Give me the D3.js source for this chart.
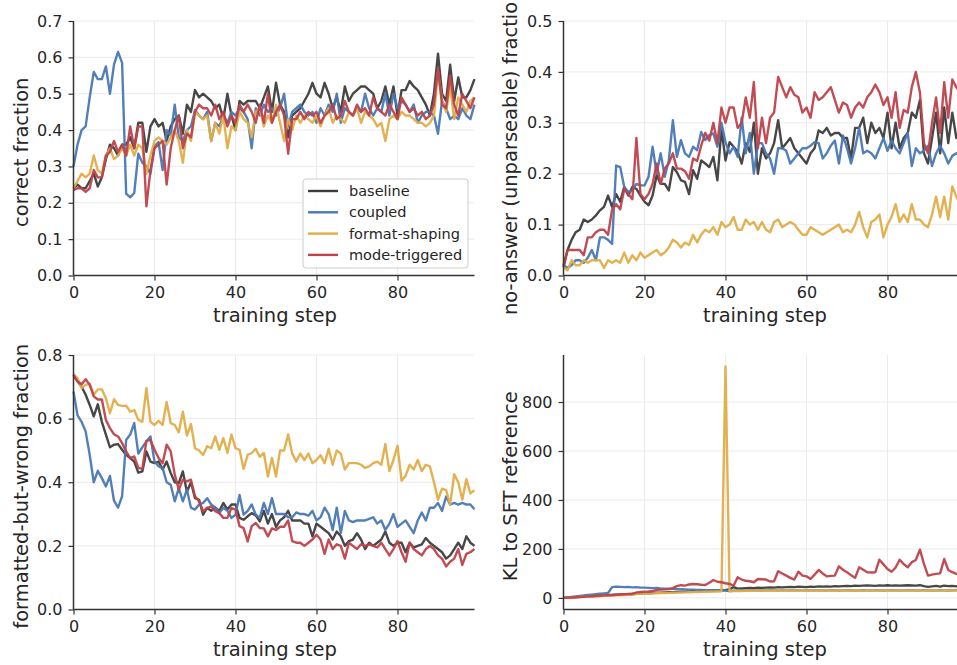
<!DOCTYPE html>
<html>
<head>
<meta charset="utf-8">
<style>
  body { margin: 0; background: #fff; }
  svg { display: block; font-family: 'DejaVu Sans', sans-serif; }
  .tick text { fill: #262626; }
</style>
</head>
<body>
<svg width="957" height="665"></svg>
<script src="https://cdn.jsdelivr.net/npm/d3@7"></script>
<script>
// steps 0..99
const steps = d3.range(100);
const seriesNames = ["baseline", "coupled", "format-shaping", "mode-triggered"];
const xTicks = [0, 20, 40, 60, 80];

// correct fraction
const correctBaseline = [0.24,0.25,0.24,0.24,0.26,0.28,0.245,0.27,0.32,0.36, 0.35,0.33,0.36,0.36,0.38,0.35,0.42,0.42,0.34,0.41,
  0.43,0.41,0.42,0.37,0.41,0.43,0.44,0.39,0.47,0.45, 0.51,0.49,0.50,0.49,0.48,0.46,0.47,0.43,0.50,0.44,
  0.40,0.48,0.47,0.48,0.48,0.48,0.46,0.49,0.52,0.45, 0.53,0.47,0.45,0.38,0.44,0.45,0.46,0.48,0.50,0.53,
  0.50,0.49,0.53,0.50,0.46,0.49,0.45,0.52,0.48,0.50, 0.51,0.52,0.52,0.51,0.50,0.46,0.48,0.52,0.47,0.52,
  0.44,0.51,0.51,0.535,0.52,0.51,0.49,0.47,0.44,0.50, 0.61,0.50,0.48,0.58,0.48,0.545,0.49,0.49,0.51,0.54];
const correctCoupled = [0.30,0.36,0.40,0.41,0.49,0.56,0.54,0.54,0.575,0.50, 0.58,0.615,0.585,0.225,0.215,0.227,0.335,0.31,0.30,0.28,
  0.355,0.367,0.29,0.40,0.385,0.47,0.38,0.37,0.40,0.41, 0.455,0.44,0.43,0.45,0.37,0.42,0.41,0.44,0.42,0.45,
  0.44,0.46,0.45,0.43,0.35,0.46,0.44,0.47,0.45,0.46, 0.44,0.46,0.50,0.41,0.45,0.46,0.47,0.45,0.44,0.45,
  0.42,0.46,0.44,0.47,0.45,0.50,0.42,0.46,0.45,0.44, 0.46,0.45,0.50,0.46,0.44,0.46,0.45,0.50,0.44,0.50,
  0.46,0.48,0.47,0.45,0.47,0.42,0.44,0.45,0.45,0.44, 0.39,0.48,0.46,0.43,0.44,0.43,0.46,0.44,0.43,0.47];
const correctFormat = [0.24,0.26,0.28,0.27,0.28,0.33,0.29,0.28,0.33,0.35, 0.32,0.33,0.35,0.33,0.36,0.33,0.36,0.35,0.28,0.33,
  0.37,0.38,0.37,0.36,0.38,0.40,0.37,0.31,0.40,0.37, 0.45,0.44,0.43,0.44,0.37,0.42,0.39,0.44,0.35,0.41,
  0.40,0.45,0.43,0.42,0.38,0.45,0.46,0.41,0.44,0.42, 0.47,0.42,0.37,0.43,0.40,0.44,0.42,0.44,0.43,0.42,
  0.44,0.41,0.44,0.46,0.42,0.44,0.43,0.42,0.45,0.44, 0.46,0.42,0.45,0.44,0.43,0.41,0.42,0.37,0.43,0.44,
  0.43,0.45,0.44,0.44,0.43,0.42,0.42,0.41,0.42,0.44, 0.56,0.48,0.45,0.52,0.43,0.49,0.47,0.45,0.48,0.49];
const correctMode = [0.235,0.24,0.24,0.23,0.24,0.29,0.27,0.27,0.33,0.34, 0.37,0.34,0.36,0.33,0.41,0.35,0.41,0.41,0.19,0.29,
  0.35,0.36,0.37,0.25,0.35,0.40,0.44,0.35,0.39,0.38, 0.45,0.47,0.46,0.46,0.44,0.47,0.43,0.45,0.41,0.44,
  0.42,0.47,0.45,0.47,0.45,0.42,0.47,0.42,0.50,0.42, 0.45,0.47,0.44,0.335,0.43,0.43,0.45,0.43,0.45,0.44,
  0.45,0.42,0.44,0.45,0.47,0.43,0.44,0.48,0.45,0.44, 0.47,0.45,0.46,0.44,0.49,0.46,0.45,0.44,0.47,0.45,
  0.43,0.49,0.47,0.45,0.46,0.44,0.45,0.43,0.44,0.47, 0.57,0.47,0.46,0.55,0.47,0.44,0.50,0.48,0.46,0.49];

// no-answer (unparseable) fraction
const noAnswerBaseline = [0.016,0.05,0.07,0.085,0.09,0.11,0.105,0.11,0.118,0.128, 0.135,0.157,0.135,0.16,0.145,0.174,0.157,0.174,0.17,0.157,
  0.145,0.138,0.157,0.197,0.18,0.18,0.167,0.213,0.203,0.187, 0.184,0.16,0.207,0.19,0.226,0.22,0.213,0.233,0.187,0.289,
  0.226,0.262,0.253,0.243,0.22,0.26,0.243,0.30,0.20,0.25, 0.23,0.24,0.26,0.305,0.25,0.26,0.27,0.25,0.24,0.23,
  0.22,0.24,0.25,0.285,0.28,0.29,0.275,0.28,0.28,0.27, 0.27,0.23,0.29,0.29,0.31,0.26,0.30,0.28,0.29,0.27,
  0.32,0.25,0.30,0.25,0.27,0.28,0.32,0.31,0.345,0.24, 0.22,0.27,0.32,0.24,0.33,0.26,0.32,0.27,0.29,0.30];
const noAnswerCoupled = [0.02,0.015,0.02,0.03,0.03,0.025,0.035,0.05,0.03,0.075, 0.075,0.07,0.062,0.216,0.213,0.174,0.164,0.167,0.18,0.177,
  0.177,0.194,0.253,0.20,0.24,0.194,0.226,0.305,0.233,0.266, 0.24,0.233,0.253,0.246,0.282,0.266,0.276,0.279,0.253,0.30,
  0.262,0.24,0.253,0.233,0.31,0.24,0.28,0.20,0.26,0.26, 0.24,0.23,0.20,0.25,0.25,0.245,0.22,0.23,0.24,0.25,
  0.25,0.255,0.262,0.26,0.23,0.24,0.255,0.265,0.22,0.275, 0.25,0.22,0.25,0.29,0.24,0.245,0.24,0.23,0.25,0.27,
  0.245,0.265,0.25,0.24,0.26,0.28,0.215,0.25,0.24,0.245, 0.255,0.215,0.24,0.255,0.24,0.22,0.235,0.24,0.235,0.24];
const noAnswerFormat = [0.016,0.01,0.03,0.02,0.02,0.03,0.025,0.03,0.03,0.03, 0.015,0.03,0.025,0.03,0.025,0.045,0.025,0.04,0.03,0.045,
  0.035,0.04,0.045,0.05,0.04,0.045,0.055,0.07,0.065,0.055, 0.065,0.06,0.08,0.065,0.08,0.09,0.085,0.095,0.08,0.105,
  0.095,0.10,0.115,0.09,0.09,0.11,0.10,0.105,0.09,0.105, 0.09,0.085,0.105,0.11,0.095,0.10,0.105,0.10,0.09,0.08,
  0.08,0.095,0.09,0.085,0.08,0.085,0.09,0.095,0.10,0.085, 0.09,0.085,0.10,0.125,0.095,0.075,0.105,0.11,0.12,0.075,
  0.10,0.115,0.14,0.105,0.12,0.105,0.14,0.11,0.11,0.10, 0.095,0.12,0.155,0.115,0.155,0.11,0.175,0.155,0.14,0.15];
const noAnswerMode = [0.02,0.05,0.05,0.05,0.05,0.04,0.075,0.075,0.085,0.09, 0.09,0.08,0.13,0.14,0.13,0.17,0.16,0.15,0.27,0.16,
  0.15,0.16,0.18,0.22,0.18,0.21,0.22,0.24,0.21,0.21, 0.205,0.19,0.23,0.225,0.255,0.28,0.265,0.30,0.26,0.33,
  0.30,0.33,0.33,0.29,0.30,0.35,0.31,0.38,0.25,0.31, 0.26,0.31,0.32,0.39,0.37,0.35,0.37,0.355,0.35,0.32,
  0.33,0.31,0.36,0.345,0.35,0.36,0.37,0.345,0.32,0.34, 0.335,0.31,0.33,0.34,0.33,0.35,0.36,0.375,0.36,0.335,
  0.35,0.31,0.36,0.29,0.325,0.32,0.37,0.40,0.36,0.26, 0.24,0.30,0.35,0.28,0.38,0.31,0.385,0.37,0.36,0.35];

// formatted-but-wrong fraction
const wrongBaseline = [0.737,0.717,0.70,0.675,0.643,0.607,0.645,0.59,0.55,0.51, 0.518,0.52,0.502,0.486,0.476,0.465,0.43,0.434,0.497,0.465,
  0.46,0.465,0.44,0.465,0.429,0.40,0.397,0.434,0.37,0.40, 0.35,0.345,0.298,0.32,0.31,0.32,0.31,0.335,0.314,0.33,
  0.33,0.288,0.282,0.293,0.303,0.296,0.277,0.31,0.27,0.30, 0.26,0.28,0.29,0.31,0.28,0.28,0.28,0.27,0.27,0.23,
  0.27,0.26,0.25,0.24,0.22,0.245,0.23,0.20,0.215,0.22, 0.24,0.22,0.19,0.21,0.20,0.21,0.22,0.245,0.21,0.20,
  0.21,0.21,0.18,0.21,0.195,0.20,0.205,0.225,0.21,0.20, 0.19,0.18,0.16,0.17,0.19,0.21,0.19,0.23,0.21,0.20];
const wrongCoupled = [0.685,0.61,0.59,0.56,0.486,0.40,0.436,0.413,0.387,0.42, 0.342,0.32,0.356,0.533,0.55,0.586,0.49,0.51,0.528,0.544,
  0.465,0.45,0.445,0.40,0.392,0.34,0.382,0.34,0.377,0.32, 0.314,0.33,0.335,0.35,0.33,0.32,0.303,0.32,0.31,0.288,
  0.298,0.36,0.298,0.31,0.33,0.298,0.288,0.335,0.30,0.35, 0.30,0.30,0.30,0.29,0.29,0.305,0.30,0.30,0.295,0.31,
  0.28,0.29,0.32,0.30,0.25,0.32,0.24,0.31,0.28,0.275, 0.28,0.28,0.28,0.285,0.29,0.27,0.28,0.25,0.27,0.30,
  0.26,0.27,0.28,0.26,0.24,0.28,0.305,0.28,0.32,0.32, 0.335,0.31,0.355,0.33,0.335,0.33,0.335,0.33,0.33,0.315];
const wrongFormat = [0.74,0.727,0.696,0.706,0.71,0.675,0.692,0.692,0.664,0.617, 0.661,0.643,0.64,0.641,0.622,0.627,0.596,0.59,0.696,0.59,
  0.58,0.593,0.58,0.652,0.586,0.58,0.557,0.622,0.547,0.583, 0.507,0.50,0.486,0.513,0.507,0.544,0.502,0.539,0.492,0.55,
  0.507,0.502,0.442,0.486,0.492,0.505,0.48,0.492,0.418,0.476, 0.418,0.50,0.50,0.55,0.49,0.465,0.49,0.47,0.49,0.46,
  0.47,0.485,0.46,0.505,0.455,0.50,0.49,0.44,0.46,0.46, 0.46,0.455,0.445,0.45,0.46,0.465,0.455,0.52,0.435,0.47,
  0.515,0.405,0.42,0.455,0.44,0.47,0.435,0.455,0.45,0.40, 0.345,0.38,0.375,0.33,0.425,0.40,0.345,0.41,0.365,0.375];
const wrongMode = [0.737,0.717,0.708,0.724,0.706,0.67,0.66,0.66,0.596,0.57, 0.551,0.544,0.523,0.497,0.476,0.481,0.445,0.442,0.53,0.533,
  0.502,0.476,0.46,0.518,0.497,0.424,0.377,0.408,0.403,0.408, 0.356,0.34,0.309,0.319,0.324,0.309,0.303,0.288,0.288,0.319,
  0.314,0.262,0.256,0.214,0.262,0.272,0.256,0.255,0.23,0.255, 0.25,0.26,0.26,0.28,0.215,0.21,0.21,0.20,0.21,0.22,
  0.235,0.22,0.175,0.22,0.19,0.205,0.20,0.16,0.21,0.20, 0.19,0.205,0.20,0.205,0.20,0.195,0.21,0.19,0.17,0.19,
  0.215,0.18,0.15,0.21,0.19,0.18,0.17,0.19,0.20,0.19, 0.17,0.16,0.135,0.15,0.16,0.19,0.14,0.175,0.18,0.19];

// KL to SFT reference
const klBaseline = [0,1.2,2.3,3.1,4.4,5.2,6.1,7.3,8.2,9.4, 10.1,11.2,12.0,12.9,13.8,14.6,15.5,16.1,17.0,17.8,
  18.6,19.3,20.1,21.0,21.6,22.4,23.0,23.8,24.5,25.1, 25.8,26.4,27.1,27.8,28.3,29.0,29.6,30.2,30.8,31.3,
  32,36,44,38,39,40,41,40,42,41, 42,43,42,44,43,44,45,44,46,45,
  44,46,45,47,46,47,46,48,47,48, 49,48,50,49,50,51,50,49,51,50,
  52,50,51,50,51,52,51,50,52,48, 45,47,49,46,50,48,49,47,50,48];
const klCoupled = [0,2.1,4.3,6.2,8.0,9.9,11.8,13.5,15.3,17.0, 18.6,20.2,44,46,45,44,45,43,44,42,
  42,41,40,41,39,38,38,37,36,36, 35,34,34,33,33,32,32,31,31,30,
  30,28,29,30,31,30,31,32,31,30, 31,32,31,30,32,31,30,31,32,31,
  30,31,32,31,30,31,32,31,30,31, 32,31,30,31,32,31,30,32,31,30,
  31,32,31,30,31,32,31,30,31,32, 31,30,31,32,31,30,31,32,31,30];
const klFormat = [0,1.0,2.0,2.8,3.6,4.5,5.3,6.0,6.8,7.5, 8.2,8.9,9.6,10.3,11.0,11.6,12.3,13.0,16.0,16.5,
  17.1,17.6,18.4,18.8,19.5,20.1,20.4,21.2,21.6,22.3, 22.7,23.1,23.8,24.2,24.6,25.1,25.4,25.9,26.3,26.8,
  945,27,28,29,28,30,29,31,30,29, 30,31,29,30,31,30,29,30,31,30,
  29,30,31,30,29,31,30,29,30,31, 30,29,30,31,29,30,31,30,29,30,
  31,30,29,30,31,30,29,30,31,30, 29,30,31,30,32,30,31,30,31,32];
const klMode = [0,1,2,3,4,5,6.1,7.0,8.1,9.0, 10.2,11.1,12.0,13.2,14.1,15.0,16.2,17.3,22,24,
  25,26,28,33,34,35,36,40,48,52, 50,55,57,56,54,53,62,73,66,64,
  60,57,50,84,75,70,68,64,77,76, 75,67,68,109,100,91,82,75,107,91,
  88,77,95,114,100,88,90,91,129,115, 105,93,82,125,115,105,104,105,156,137,
  118,107,124,156,138,125,146,155,197,139, 91,95,98,100,159,114,105,98,95,100];

const colors = ["#3d3d3d", "#4a78b4", "#e1ad48", "#bf424a"];

const svg = d3.select("svg");

const panels = [
  { x0: 73.5, top: 21, bottom: 275.5, yDomain: [0, 0.7], yTicks: d3.range(0, 0.71, 0.1), fmt: d3.format(".1f"),
    label: "correct fraction", labelX: 28, data: [correctBaseline, correctCoupled, correctFormat, correctMode], legend: true },
  { x0: 563.5, top: 21, bottom: 275.5, yDomain: [0, 0.5], yTicks: d3.range(0, 0.51, 0.1), fmt: d3.format(".1f"),
    label: "no-answer (unparseable) fraction", labelX: 517, data: [noAnswerBaseline, noAnswerCoupled, noAnswerFormat, noAnswerMode] },
  { x0: 73.5, top: 355, bottom: 609.5, yDomain: [0, 0.8], yTicks: d3.range(0, 0.81, 0.2), fmt: d3.format(".1f"),
    label: "formatted-but-wrong fraction", labelX: 28, data: [wrongBaseline, wrongCoupled, wrongFormat, wrongMode] },
  { x0: 563.5, top: 355, bottom: 609.5, yDomain: [-47.3, 992], yTicks: [0, 200, 400, 600, 800], fmt: d3.format("d"),
    label: "KL to SFT reference", labelX: 517, data: [klBaseline, klCoupled, klFormat, klMode] }
];

panels.forEach(p => {
  const x = d3.scaleLinear().domain([0, 99]).range([p.x0, p.x0 + 99 * 4.05]);
  const y = d3.scaleLinear().domain(p.yDomain).range([p.bottom, p.top]);
  const g = svg.append("g");

  // grid
  g.append("g").selectAll("line").data(p.yTicks).join("line")
    .attr("x1", p.x0).attr("x2", p.x0 + 99 * 4.05)
    .attr("y1", d => y(d)).attr("y2", d => y(d))
    .attr("stroke", "#ebebeb").attr("stroke-width", 1);
  g.append("g").selectAll("line").data(xTicks).join("line")
    .attr("x1", d => x(d)).attr("x2", d => x(d))
    .attr("y1", p.top).attr("y2", p.bottom)
    .attr("stroke", "#ebebeb").attr("stroke-width", 1);

  // lines
  const line = d3.line().x((d, i) => x(steps[i])).y(d => y(d));
  p.data.forEach((vals, k) => {
    g.append("path").datum(vals)
      .attr("d", line)
      .attr("fill", "none")
      .attr("stroke", colors[k])
      .attr("stroke-width", 2.4)
      .attr("stroke-linejoin", "round")
      .attr("opacity", 0.95);
  });

  // axes
  const xAxis = g.append("g").attr("transform", `translate(0,${p.bottom})`)
    .call(d3.axisBottom(x).tickValues(xTicks).tickSize(5).tickPadding(6).tickSizeOuter(0));
  xAxis.select(".domain").attr("d", `M${p.x0},0H${p.x0 + 99 * 4.05}`);
  const yAxis = g.append("g").attr("transform", `translate(${p.x0},0)`)
    .call(d3.axisLeft(y).tickValues(p.yTicks).tickFormat(p.fmt).tickSize(5).tickPadding(6).tickSizeOuter(0));
  yAxis.select(".domain").attr("d", `M0,${p.top}V${p.bottom}`);
  [xAxis, yAxis].forEach(a => {
    a.selectAll(".domain").attr("stroke", "#333").attr("stroke-width", 1.5);
    a.selectAll(".tick line").attr("stroke", "#333").attr("stroke-width", 1.2);
    a.selectAll(".tick text").attr("font-size", 16).attr("font-family", "DejaVu Sans");
  });

  // axis labels
  g.append("text")
    .attr("x", p.x0 + 99 * 4.05 / 2 + 1).attr("y", p.bottom + 46)
    .attr("text-anchor", "middle").attr("font-size", 19.5).attr("fill", "#262626")
    .text("training step");
  g.append("text")
    .attr("transform", `translate(${p.labelX},${(p.top + p.bottom) / 2 + 4}) rotate(-90)`)
    .attr("text-anchor", "middle").attr("font-size", 19.5).attr("fill", "#262626")
    .text(p.label);

  if (p.legend) {
    const lg = g.append("g").attr("transform", "translate(303,179)");
    lg.append("rect").attr("width", 165).attr("height", 89).attr("rx", 3)
      .attr("fill", "white").attr("fill-opacity", 0.85)
      .attr("stroke", "#cccccc").attr("stroke-width", 1);
    seriesNames.forEach((name, k) => {
      const yy = 12 + k * 21.3;
      lg.append("line").attr("x1", 5).attr("x2", 35).attr("y1", yy).attr("y2", yy)
        .attr("stroke", colors[k]).attr("stroke-width", 2.4);
      lg.append("text").attr("x", 46).attr("y", yy + 5).attr("font-size", 14.5)
        .attr("fill", "#262626").text(name);
    });
  }
});
</script>
</body>
</html>
